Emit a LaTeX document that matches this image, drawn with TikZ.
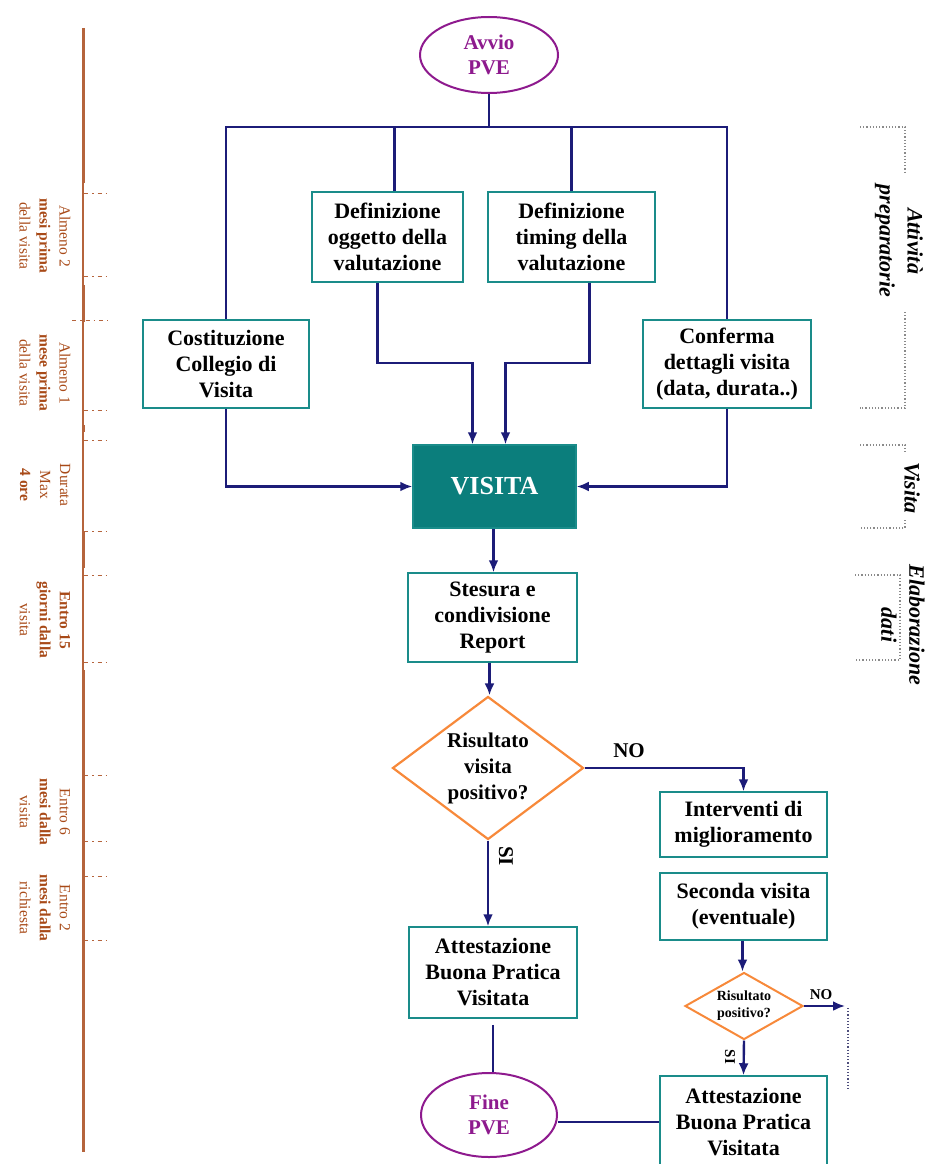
\documentclass[tikz,border=0pt]{standalone}
\usepackage{fontspec}
\setmainfont{Liberation Serif}
\usetikzlibrary{shapes.geometric,arrows.meta}
\definecolor{tealb}{HTML}{1A8C8A}
\definecolor{tealf}{HTML}{0B7E7C}
\definecolor{navy}{HTML}{1C1C78}
\definecolor{orng}{HTML}{F7893A}
\definecolor{purp}{HTML}{8E1A8E}
\definecolor{brline}{HTML}{B5643C}
\definecolor{brtext}{HTML}{A84A18}
\definecolor{dotgray}{HTML}{8A8A8A}
\begin{document}
\begin{tikzpicture}[x=1pt,y=-1pt,
  box/.style={draw=tealb, line width=1.5pt, fill=white, align=center,
    font=\fontsize{22}{26}\selectfont\bfseries, inner sep=2pt},
  terminal/.style={ellipse, draw=purp, line width=2pt, align=center, text=purp,
    font=\fontsize{21}{25}\selectfont\bfseries, inner sep=0pt},
  decision/.style={diamond, draw=orng, line width=2.2pt, inner sep=0pt},
  link/.style={draw=navy, line width=2.4pt},
  flow/.style={link, -{Latex[length=12pt,width=10pt]}},
  lbl/.style={font=\fontsize{21}{25}\selectfont\bfseries},
  timetext/.style={rotate=-90, align=center, text=brtext,
    font=\fontsize{15.5}{20}\selectfont},
  tick/.style={draw=brline, line width=1pt, dash pattern=on 4pt off 4pt on 1.5pt off 4pt},
  phase/.style={rotate=-90, align=center, font=\fontsize{22}{28}\selectfont\bfseries\itshape},
  bracket/.style={draw=dotgray, line width=1.6pt, dash pattern=on 1.2pt off 2pt}
]
\useasboundingbox (0,0) rectangle (927,1164);

% ---------- main flow ----------
\node[terminal, minimum width=138pt, minimum height=76pt] (avvio) at (489,55) {Avvio\\PVE};
\coordinate (bus) at (489,127);

\node[box, minimum width=151pt, minimum height=90pt] (defogg) at (387.5,237) {Definizione\\oggetto della\\valutazione};
\node[box, minimum width=167pt, minimum height=90pt] (deftim) at (571.5,237) {Definizione\\timing della\\valutazione};
\node[box, minimum width=166pt, minimum height=88pt] (cost) at (226,364) {Costituzione\\Collegio di\\Visita};
\node[box, minimum width=168pt, minimum height=88pt] (conf) at (727,364) {Conferma\\dettagli visita\\(data, durata..)};
\node[box, fill=tealf, text=white, minimum width=163pt, minimum height=83pt,
  font=\fontsize{26}{30}\selectfont\bfseries] (visita) at (494.5,486.5) {VISITA};
\node[box, minimum width=169pt, minimum height=89pt] (stesura) at (492.5,617.5) {Stesura e\\condivisione\\Report};
\node[decision, minimum width=191pt, minimum height=143pt,
  label={[align=center, font=\fontsize{21}{26}\selectfont\bfseries]center:Risultato\\visita\\positivo?}] (dia) at (488,768) {};
\node[box, minimum width=167pt, minimum height=65pt] (interv) at (743.5,824.5) {Interventi di\\miglioramento};
\node[box, minimum width=167pt, minimum height=67pt] (seconda) at (743.5,906.5) {Seconda visita\\(eventuale)};
\node[decision, line width=2pt, minimum width=118pt, minimum height=67pt,
  label={[align=center, font=\fontsize{14}{17}\selectfont\bfseries]center:Risultato\\positivo?}] (sdia) at (744,1006) {};
\node[box, minimum width=168pt, minimum height=91pt] (att1) at (493,972.5) {Attestazione\\Buona Pratica\\Visitata};
\node[box, minimum width=167pt, minimum height=92pt] (att2) at (743.5,1122) {Attestazione\\Buona Pratica\\Visitata};
\node[terminal, minimum width=136pt, minimum height=84pt] (fine) at (489,1115) {Fine\\PVE};
\coordinate (noend) at (845,1006);

% start and distribution bus
\draw[link] (avvio.south) -- (bus);
\draw[link] (cost.north) |- (bus) -| (conf.north);
\draw[link] ([xshift=7pt]defogg.north) -- ([xshift=7pt]defogg.north |- bus);
\draw[link] (deftim.north) -- (deftim.north |- bus);

% convergence on the visit
\draw[flow] ([xshift=-10pt]defogg.south) -- ++(0,80) -| ([xshift=-22pt]visita.north);
\draw[flow] ([xshift=18pt]deftim.south) -- ++(0,80) -| ([xshift=11pt]visita.north);
\draw[flow] (cost.south) |- (visita.west);
\draw[flow] (conf.south) |- (visita.east);
\draw[flow] ([xshift=-1pt]visita.south) -- ([xshift=-1pt]visita.south |- stesura.north);
\draw[flow] ([xshift=-3pt]stesura.south) -- ([xshift=-3pt]stesura.south |- dia.north);

% decision branches
\draw[flow] (dia.east) -| (interv.north);
\node[lbl] at (629,751) {NO};
\draw[flow] (dia.south) -- (dia.south |- att1.north);
\node[lbl, rotate=-90] at (506,856) {SI};
\draw[flow] ([xshift=-1pt]seconda.south) -- ([xshift=-1pt]seconda.south |- sdia.north);
\draw[flow] (sdia.east) -- (noend);
\node[font=\fontsize{15}{17}\selectfont\bfseries] at (821,995) {NO};
\draw[flow] (sdia.south) -- (att2.north);
\node[font=\fontsize{15}{17}\selectfont\bfseries, rotate=-90] at (730,1057) {SI};
\draw[bracket, draw=navy!50!gray] (848,1008) -- (848,1090);

% closing
\draw[link, shorten <=6pt] (att1.south) -- (att1.south |- fine.north);
\draw[link] (fine.east |- att2.west) -- (att2.west);

% ---------- time line ----------
\draw[draw=brline, line width=3pt] (83,28) -- (83,183);
\draw[draw=brline, line width=1.2pt] (83,183) -- (83,285);
\draw[draw=brline, line width=3pt] (83,285) -- (83,322);
\draw[draw=brline, line width=1.2pt] (83,322) -- (83,532);
\draw[draw=brline, line width=3pt] (83,425) -- (83,432);
\draw[draw=brline, line width=3pt] (83,532) -- (83,568);
\draw[draw=brline, line width=1.2pt] (83,568) -- (83,670);
\draw[draw=brline, line width=3pt] (83,670) -- (83,1152);

\foreach \y in {193,276,410,440,531,575,662,775,841,876,940}
  \draw[tick] (84,\y) -- (108,\y);
\draw[tick] (72,320) -- (108,320);

\node[timetext] at (45,236) {Almeno 2\\\textbf{mesi prima}\\della visita};
\node[timetext] at (45,373) {Almeno 1\\\textbf{mese prima}\\della visita};
\node[timetext] at (45,485) {Durata\\Max\\\textbf{4 ore}};
\node[timetext] at (45,620) {\textbf{Entro 15}\\\textbf{giorni dalla}\\visita};
\node[timetext] at (45,812) {Entro 6\\\textbf{mesi dalla}\\visita};
\node[timetext] at (45,908) {Entro 2\\\textbf{mesi dalla}\\richiesta};

% ---------- phases ----------
\draw[bracket] (860,127) -- (905,127) -- (905,172);
\draw[bracket] (905,312) -- (905,408) -- (860,408);
\node[phase] at (899,241) {Attività\\preparatorie};

\draw[bracket] (860,445) -- (905,445) -- (905,452);
\draw[bracket] (905,520) -- (905,528) -- (860,528);
\node[phase] at (912,488) {Visita};

\draw[bracket] (855,575) -- (900,575) -- (900,660) -- (855,660);
\node[phase] at (903,625) {Elaborazione\\dati};
\end{tikzpicture}
\end{document}
